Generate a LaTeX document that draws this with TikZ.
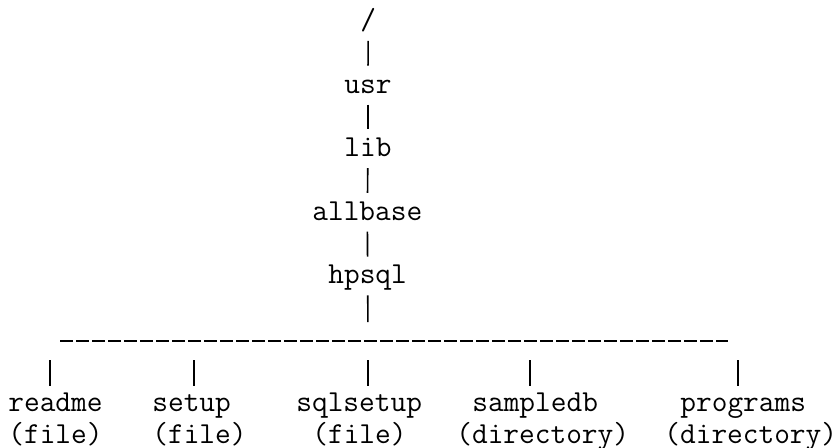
\documentclass[tikz,border=0pt]{standalone}
\usepackage{tikz}

\begin{document}
\begin{tikzpicture}[x=0.5pt,y=-0.5pt,
  fsname/.style={font=\ttfamily\fontsize{15.24pt}{18pt}\selectfont, inner sep=0pt, text height=8pt, text depth=0pt, anchor=base west},
  vline/.style={draw, line width=0.8pt, shorten <=5.5pt, shorten >=5.5pt},
  hline/.style={draw, line width=0.8pt, dash pattern=on 6.35pt off 1.65pt}]
\useasboundingbox (0,0) rectangle (840,447);

\node[fsname] (root) at (360,29.5) {/};
\node[fsname] (usr) at (344,93.1) {usr};
\node[fsname] (lib) at (344,156.7) {lib};
\node[fsname] (allbase) at (312,220.3) {allbase};
\node[fsname] (hpsql) at (328,283.9) {hpsql};

\node[fsname] (readme) at (8,411) {readme};
\node[fsname] (setup) at (152,411) {setup};
\node[fsname] (sqlsetup) at (296,411) {sqlsetup};
\node[fsname] (sampledb) at (472,411) {sampledb};
\node[fsname] (programs) at (680,411) {programs};

\node[fsname] (readmet) at (8,443) {(file)};
\node[fsname] (setupt) at (152,443) {(file)};
\node[fsname] (sqlsetupt) at (312,443) {(file)};
\node[fsname] (sampledbt) at (456,443) {(directory)};
\node[fsname] (programst) at (664,443) {(directory)};

\coordinate (barL) at (60,341);
\coordinate (barR) at (728,341);
\coordinate (c1) at (50,341);
\coordinate (c2) at (194,341);
\coordinate (c3) at (368,341);
\coordinate (c4) at (530,341);
\coordinate (c5) at (738,341);

\draw[vline] (root) -- (usr);
\draw[vline] (usr) -- (lib);
\draw[vline] (lib) -- (allbase);
\draw[vline] (allbase) -- (hpsql);
\draw[vline, shorten >=9.5pt] (hpsql) -- (c3);

\draw[hline] (barL) -- (barR);

\draw[vline, shorten <=9.5pt, shorten >=4.5pt] (c1) -- (c1 |- readme.north);
\draw[vline, shorten <=9.5pt, shorten >=4.5pt] (c2) -- (c2 |- setup.north);
\draw[vline, shorten <=9.5pt, shorten >=4.5pt] (c3) -- (c3 |- sqlsetup.north);
\draw[vline, shorten <=9.5pt, shorten >=4.5pt] (c4) -- (c4 |- sampledb.north);
\draw[vline, shorten <=9.5pt, shorten >=4.5pt] (c5) -- (c5 |- programs.north);
\end{tikzpicture}
\end{document}
